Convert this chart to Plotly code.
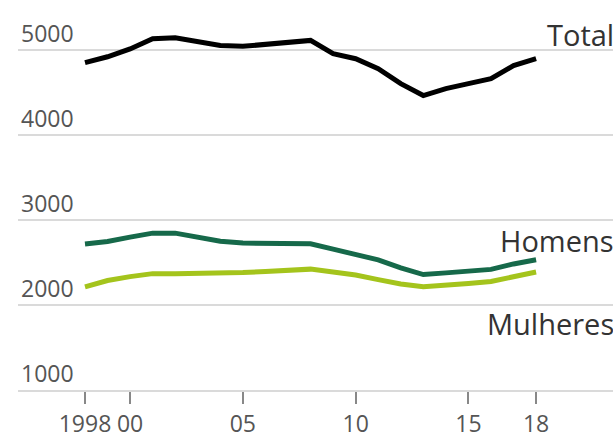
import plotly.graph_objects as go

years = list(range(1998, 2019))
total = [4848, 4918, 5010, 5130, 5140, 5095, 5050, 5040, 5060, 5088, 5110,
         4953, 4895, 4778, 4602, 4462, 4544, 4602, 4660, 4813, 4895]
homens = [2716, 2745, 2797, 2844, 2844, 2797, 2750, 2727, 2727, 2727, 2720,
          2657, 2599, 2529, 2435, 2357, 2377, 2400, 2418, 2482, 2532]
mulheres = [2213, 2287, 2333, 2368, 2368, 2368, 2374, 2380, 2392, 2404, 2421,
            2388, 2351, 2298, 2246, 2213, 2228, 2251, 2275, 2333, 2388]

xtick_vals = [1998, 2000, 2005, 2010, 2015, 2018]
xtick_text = ["1998", "00", "05", "10", "15", "18"]
ytick_vals = [1000, 2000, 3000, 4000, 5000]
ytick_text = ["1000", "2000", "3000", "4000", "5000"]

labels = [("Total", 5175), ("Homens", 2754), ("Mulheres", 1784)]

FONT = "Open Sans, sans-serif"

fig = go.Figure()
fig.add_trace(go.Scatter(x=years, y=mulheres, mode="lines",
                         line=dict(color="#a4c41c", width=5), name="Mulheres"))
fig.add_trace(go.Scatter(x=years, y=homens, mode="lines",
                         line=dict(color="#16694a", width=5), name="Homens"))
fig.add_trace(go.Scatter(x=years, y=total, mode="lines",
                         line=dict(color="#000000", width=5), name="Total"))

for txt, yv in labels:
    fig.add_annotation(x=1, xref="paper", y=yv, yref="y", text=txt,
                       showarrow=False, xanchor="right", yanchor="middle",
                       xshift=3,
                       font=dict(family=FONT, size=29, color="#333333"))

fig.update_layout(
    width=613, height=439,
    margin=dict(l=18, r=0, t=0, b=47),
    paper_bgcolor="white", plot_bgcolor="white",
    showlegend=False,
    font=dict(family=FONT, color="#555555"),
)
fig.update_xaxes(
    range=[1995.03, 2021.41],
    tickvals=xtick_vals, ticktext=xtick_text,
    ticks="outside", ticklen=12, tickwidth=1.5, tickcolor="#888888",
    tickfont=dict(family=FONT, size=23, color="#555555"),
    showgrid=False, zeroline=False,
    showline=True, linecolor="#dadada", linewidth=2,
)
fig.update_yaxes(
    range=[1000, 5585],
    tickvals=ytick_vals, ticktext=ytick_text,
    ticklabelposition="inside", ticklabelshift=-16, ticklabelstandoff=0,
    ticks="",
    tickfont=dict(family=FONT, size=23, color="#555555"),
    showgrid=True, gridcolor="#dadada", gridwidth=2,
    zeroline=False, showline=False,
)

fig.write_html("out.html")
